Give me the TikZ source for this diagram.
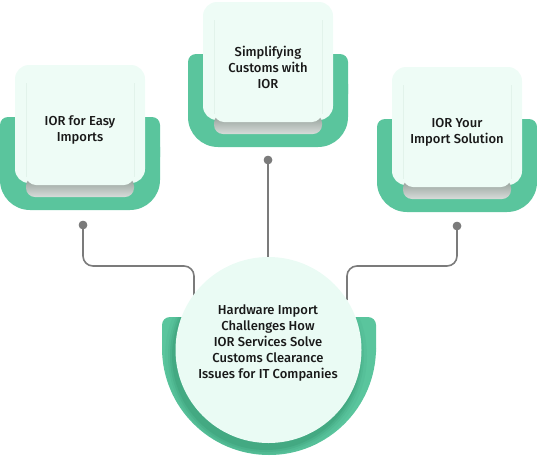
\documentclass[tikz,border=0pt]{standalone}
\usepackage{fontspec}
\setmainfont{Fira Sans}[UprightFont={* Medium}]

\definecolor{ringgreen}{HTML}{5AC59D}
\definecolor{ringdark}{HTML}{2F8F6B}
\definecolor{cardtop}{HTML}{EEFCF6}
\definecolor{cardedge}{HTML}{E2F3EB}
\definecolor{hubface}{HTML}{EAFBF4}
\definecolor{wiregray}{HTML}{7B7B7B}
\definecolor{shadowgray}{HTML}{8E9B94}

\begin{document}
\begin{tikzpicture}[x=1pt, y=-1pt,
        font=\fontsize{13}{16}\selectfont,
        wire/.style={draw=wiregray, line width=1.6pt, rounded corners=10pt},
        pin/.style={circle, fill=wiregray, inner sep=0pt, minimum size=8.5pt},
        cardtext/.style={align=center, text=black!90, inner sep=0pt},
        hub/.style={circle, fill=hubface, minimum size=186pt, inner sep=0pt}
        ]
            \useasboundingbox (0,0) rectangle (537,458);

            % Karten
            \foreach \cx/\ty/\nm/\txt in {80/65/easy/{IOR for Easy\\Imports},
                    268/2/simp/{Simplifying\\Customs with\\IOR},
                    457/67/your/{IOR Your\\Import Solution}}
            {
                \fill[ringgreen, rounded corners=30pt] (\cx-80,\ty+52) rectangle (\cx+80,\ty+145);
                \fill[ringgreen, rounded corners=8pt]  (\cx-80,\ty+52) rectangle (\cx+80,\ty+100);
                \fill[cardtop, rounded corners=14pt]   (\cx-65,\ty) rectangle (\cx+65,\ty+118);
                \shade[top color=shadowgray, bottom color=shadowgray!35, rounded corners=9pt]
                        (\cx-54,\ty+112) rectangle (\cx+54,\ty+132);
                \fill[cardtop, rounded corners=10pt]  (\cx-54,\ty+60) rectangle (\cx+54,\ty+120);
                \draw[cardedge, line width=.8pt] (\cx-54,\ty+18) -- (\cx-54,\ty+112)
                        (\cx+54,\ty+18) -- (\cx+54,\ty+112);
                \node[cardtext] (\nm) at (\cx,\ty+65) {\txt};
            }

            % Ring unten
            \fill[ringgreen] (162,348) arc[start angle=180, end angle=0, radius=107] -- cycle;
            \fill[ringgreen, rounded corners=8pt] (162,317) rectangle (376,360);
            \begin{scope}
                \clip (162,348) arc[start angle=180, end angle=0, radius=107] -- (376,317) -- (162,317) -- cycle;
                \foreach \r/\o in {101/.08, 98/.12, 96/.18, 94/.25}
                    \fill[ringdark, opacity=\o] (266,356) circle (\r);
            \end{scope}

            % Leiter
            \node[pin] (pl) at (83,225) {};
            \node[pin] (pt) at (268,160) {};
            \node[pin] (pr) at (457,226) {};
            \coordinate (el) at (194,300);
            \coordinate (et) at (268,280);
            \coordinate (er) at (347,300);
            \draw[wire] (pl.center) -- ++(0,41) -| (el);
            \draw[wire] (pt.center) -- (et);
            \draw[wire] (pr.center) -- ++(0,40) -| (er);
            \fill[wiregray] (pl) circle (4.25) (pt) circle (4.25) (pr) circle (4.25);

            % Mitte
            \node[hub] (hub) at (268.5,350) {};
            \node[cardtext] (hubtext) at (268,343) {Hardware Import\\Challenges How\\IOR Services Solve\\Customs Clearance\\Issues for IT Companies};

        \end{tikzpicture}
\end{document}
